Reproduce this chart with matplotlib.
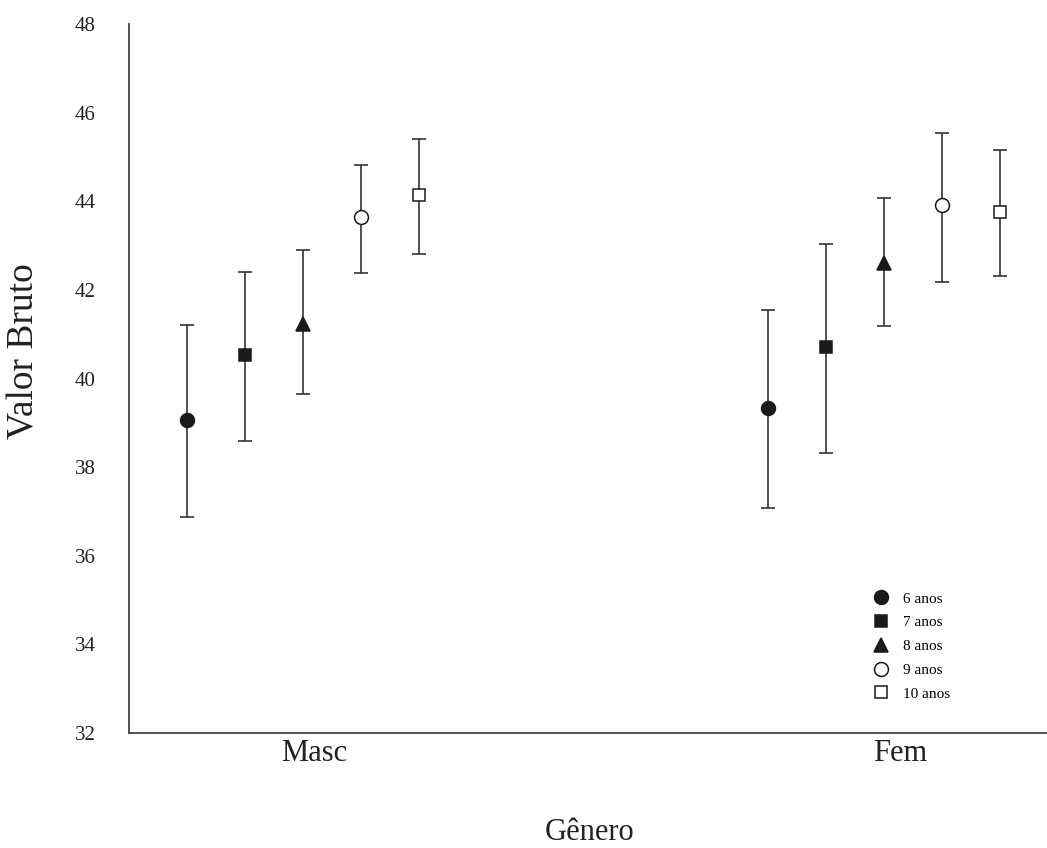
import matplotlib
matplotlib.use("Agg")
import matplotlib.pyplot as plt
import numpy as np

plt.rcParams['font.family'] = ['Liberation Serif', 'DejaVu Serif']

# data
generos = ["Masc", "Fem"]
idades = ["6 anos", "7 anos", "8 anos", "9 anos", "10 anos"]
media_masc = [39.07, 40.52, 41.24, 43.64, 44.14]
sup_masc = [41.20, 42.40, 42.89, 44.81, 45.40]
inf_masc = [36.88, 38.60, 39.64, 42.37, 42.80]
media_fem = [39.34, 40.70, 42.60, 43.91, 43.75]
sup_fem = [41.54, 43.03, 44.07, 45.54, 45.15]
inf_fem = [37.08, 38.31, 41.18, 42.17, 42.31]

marcadores = ['o', 's', '^', 'o', 's']
preenchido = [True, True, True, False, False]
tamanhos = [10, 9, 10, 10, 9]

fig = plt.figure(figsize=(10.47, 8.48), dpi=100)
ax = fig.add_axes([129 / 1047, 115 / 848, 918 / 1047, 709 / 848])

medias = [media_masc, media_fem]
sups = [sup_masc, sup_fem]
infs = [inf_masc, inf_fem]
offsets = np.arange(len(idades)) * 0.1 - 0.2

for i, idade in enumerate(idades):
    xs = [g + offsets[i] for g in range(len(generos))]
    ys = [medias[g][i] for g in range(len(generos))]
    err_lo = [medias[g][i] - infs[g][i] for g in range(len(generos))]
    err_hi = [sups[g][i] - medias[g][i] for g in range(len(generos))]
    face = '#1a1a1a' if preenchido[i] else 'white'
    ax.errorbar(xs, ys, yerr=[err_lo, err_hi], fmt='none', ecolor='#333333',
                elinewidth=1.2, capsize=5, capthick=1.2, zorder=2)
    ax.plot(xs, ys, linestyle='none', marker=marcadores[i], markersize=tamanhos[i],
            markerfacecolor=face, markeredgecolor='#1a1a1a', markeredgewidth=1.1,
            label=idade, zorder=3)

ax.set_xlim(-0.2995, 1.2806)
ax.set_ylim(32, 48)
ax.set_yticks(np.arange(32, 49, 2))
ax.set_xticks([0.02, 1.027])
ax.set_xticklabels(generos, fontsize=22)
ax.tick_params(axis='both', length=0)
ax.tick_params(axis='y', labelsize=15, pad=24, labelcolor='#222222')
ax.tick_params(axis='x', pad=4, labelcolor='#222222')

for s in ['top', 'right']:
    ax.spines[s].set_visible(False)
for s in ['left', 'bottom']:
    ax.spines[s].set_color('#444444')
    ax.spines[s].set_linewidth(1.3)

fig.text(24 / 1047, 1 - 351 / 848, 'Valor Bruto', rotation=90, fontsize=27,
         ha='center', va='center', color='#222222')
fig.text(590 / 1047, 1 - 832 / 848, 'Gênero', fontsize=22,
         ha='center', va='center', color='#222222')

leg = ax.legend(loc='upper left', bbox_to_anchor=(0.8044, 0.2075), frameon=False,
                fontsize=11, handlelength=1.0, handletextpad=0.9,
                labelspacing=0.66, borderaxespad=0, numpoints=1)

fig.savefig('out.png', dpi=100)
